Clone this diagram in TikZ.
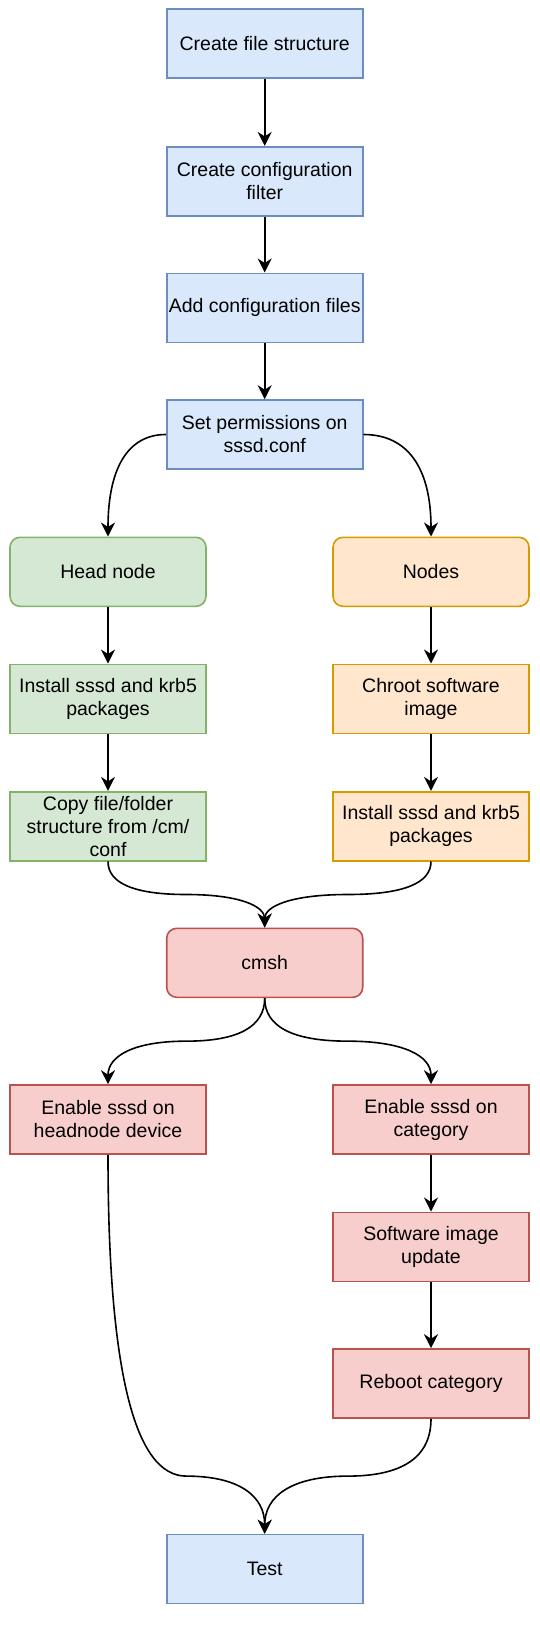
\documentclass[tikz,border=0pt]{standalone}
\usepackage{fontspec}
\setmainfont{Liberation Sans}
\usetikzlibrary{arrows.meta}
\definecolor{bluefill}{HTML}{DAE8FC}
\definecolor{bluedraw}{HTML}{6C8EBF}
\definecolor{greenfill}{HTML}{D5E8D4}
\definecolor{greendraw}{HTML}{82B366}
\definecolor{orangefill}{HTML}{FFE6CC}
\definecolor{orangedraw}{HTML}{D79B00}
\definecolor{redfill}{HTML}{F8CECC}
\definecolor{reddraw}{HTML}{B85450}
\begin{document}
\begin{tikzpicture}[x=1pt,y=-1pt,
  box/.style={draw, line width=1.6pt, minimum width=196pt, minimum height=69pt,
    inner sep=0pt, align=center, text=black, font=\fontsize{19.5}{23}\selectfont},
  bluebox/.style={box, fill=bluefill, draw=bluedraw},
  greenbox/.style={box, fill=greenfill, draw=greendraw},
  orangebox/.style={box, fill=orangefill, draw=orangedraw},
  redbox/.style={box, fill=redfill, draw=reddraw},
  roundbox/.style={rounded corners=10pt},
  arr/.style={-{Stealth[length=14pt,width=14pt,inset=4.5pt]}, line width=1.6pt, black}]
\useasboundingbox[fill=white] (0,0) rectangle (539,1627);
% center column
\node[bluebox] (fs) at (264.7,43.8) {Create file structure};
\node[bluebox] (cf) at (264.7,181.2) {Create configuration\\filter};
\node[bluebox] (af) at (264.7,307.8) {Add configuration files};
\node[bluebox] (sp) at (264.7,434.5) {Set permissions on\\sssd.conf};
% left column
\node[greenbox, roundbox] (hn) at (108,571.8) {Head node};
\node[greenbox] (ih) at (108,698.8) {Install sssd and krb5\\packages};
\node[greenbox] (cp) at (108,826.2) {Copy file/folder\\structure from /cm/\\conf};
% right column
\node[orangebox, roundbox] (nd) at (431,571.8) {Nodes};
\node[orangebox] (ch) at (431,698.8) {Chroot software\\image};
\node[orangebox] (in) at (431,826.2) {Install sssd and krb5\\packages};
% cmsh
\node[redbox, roundbox] (cm) at (264.7,962.8) {cmsh};
\node[redbox] (eh) at (108,1119.5) {Enable sssd on\\headnode device};
\node[redbox] (ec) at (431,1119.5) {Enable sssd on\\category};
\node[redbox] (su) at (431,1246.8) {Software image\\update};
\node[redbox] (rb) at (431,1383.5) {Reboot category};
\node[bluebox] (ts) at (264.7,1569) {Test};
% straight connectors
\draw[arr] (fs) -- (cf);
\draw[arr] (cf) -- (af);
\draw[arr] (af) -- (sp);
\draw[arr] (hn) -- (ih);
\draw[arr] (ih) -- (cp);
\draw[arr] (nd) -- (ch);
\draw[arr] (ch) -- (in);
\draw[arr] (ec) -- (su);
\draw[arr] (su) -- (rb);
% curved connectors
\draw[arr] (sp.west) .. controls (127.57,434.5) and (108,468.77) .. (hn.north);
\draw[arr] (sp.east) .. controls (408.23,434.5) and (431,468.77) .. (nd.north);
\draw[arr] (cp.south) .. controls (108,883.23) and (134.12,894.5) .. (186.35,894.5)
  .. controls (238.58,894.5) and (264.7,905.77) .. (cm.north);
\draw[arr] (in.south) .. controls (431,883.23) and (403.28,894.5) .. (347.85,894.5)
  .. controls (292.42,894.5) and (264.7,905.77) .. (cm.north);
\draw[arr] (cm.south) .. controls (264.7,1026.53) and (238.58,1041.15) .. (186.35,1041.15)
  .. controls (134.12,1041.15) and (108,1055.77) .. (eh.north);
\draw[arr] (cm.south) .. controls (264.7,1026.53) and (292.42,1041.15) .. (347.85,1041.15)
  .. controls (403.28,1041.15) and (431,1055.77) .. (ec.north);
\draw[arr] (eh.south) .. controls (108,1368.73) and (134.12,1476.1) .. (186.35,1476.1)
  .. controls (238.58,1476.1) and (264.7,1495.57) .. (ts.north);
\draw[arr] (rb.south) .. controls (431,1456.63) and (403.28,1476.1) .. (347.85,1476.1)
  .. controls (292.42,1476.1) and (264.7,1495.57) .. (ts.north);
\end{tikzpicture}
\end{document}
